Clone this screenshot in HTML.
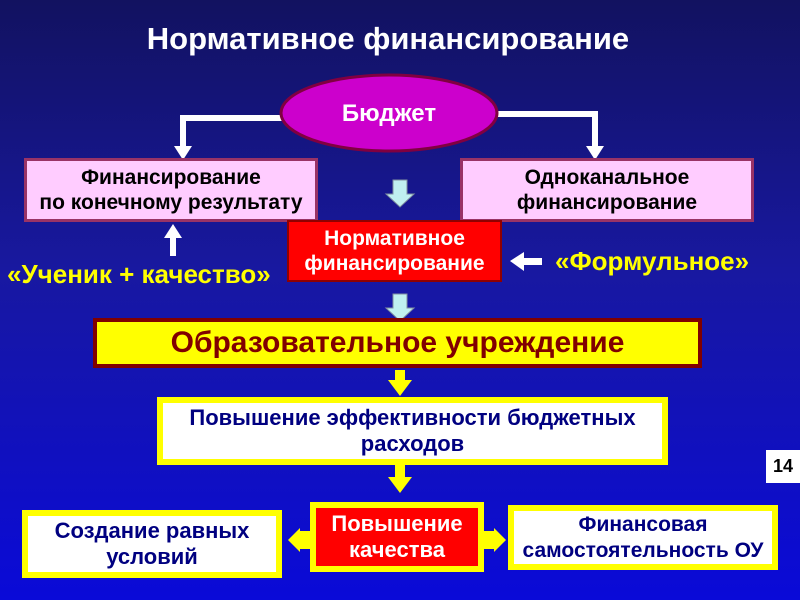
<!DOCTYPE html>
<html><head><meta charset="utf-8"><style>
body{margin:0;width:800px;height:600px;overflow:hidden;font-family:"Liberation Sans",sans-serif;}
#bg{position:absolute;left:0;top:0;width:800px;height:600px;background:linear-gradient(#121260 0%,#1818a0 45%,#0a0ad8 100%);}
.b{position:absolute;box-sizing:border-box;display:flex;align-items:center;justify-content:center;text-align:center;font-weight:bold;line-height:1.2;white-space:nowrap;}
.t{position:absolute;font-weight:bold;white-space:nowrap;}
</style></head><body><div id="bg"></div>
<div class="t" style="left:0;width:776px;text-align:center;top:21px;font-size:31px;color:#fff">Нормативное финансирование</div>
<svg width="800" height="600" style="position:absolute;left:0;top:0">
<polyline points="282,118 183,118 183,148" fill="none" stroke="#fff" stroke-width="6"/>
<polygon points="174,146 192,146 183,160" fill="#fff"/>
<polyline points="496,114 595,114 595,148" fill="none" stroke="#fff" stroke-width="6"/>
<polygon points="586,146 604,146 595,160" fill="#fff"/>
<ellipse cx="389" cy="113" rx="108" ry="38" fill="#cc00cc" stroke="#800040" stroke-width="3"/>
<polygon points="393,180 407,180 407,194 414,194 400,207 386,194 393,194" fill="#c0f0f0" stroke="#8090a0"/>
<polygon points="393,294 407,294 407,308 414,308 400,321 386,308 393,308" fill="#c0f0f0" stroke="#8090a0"/>
<rect x="170" y="236" width="6" height="20" fill="#fff"/>
<polygon points="164,238 182,238 173,224" fill="#fff"/>
<rect x="522" y="258" width="20" height="7" fill="#fff"/>
<polygon points="524,252 524,271 510,261" fill="#fff"/>
<rect x="395" y="370" width="10" height="12" fill="#ffff00"/>
<polygon points="388,380 412,380 400,396" fill="#ffff00"/>
<rect x="395" y="465" width="10" height="14" fill="#ffff00"/>
<polygon points="388,477 412,477 400,493" fill="#ffff00"/>
<polygon points="310,531 300,531 300,528 288,540 300,552 300,549 310,549" fill="#ffff00"/>
<polygon points="484,531 494,531 494,528 506,540 494,552 494,549 484,549" fill="#ffff00"/>
</svg>
<div class="t" style="left:282px;width:214px;text-align:center;top:100px;font-size:24px;color:#fff">Бюджет</div>
<div class="b" style="left:24px;top:158px;width:294px;height:64px;background:#ffccff;border:3px solid #993366;font-size:21px;color:#000">Финансирование<br>по конечному результату</div>
<div class="b" style="left:460px;top:158px;width:294px;height:64px;background:#ffccff;border:3px solid #993366;font-size:21px;color:#000">Одноканальное<br>финансирование</div>
<div class="b" style="left:287px;top:220px;width:215px;height:62px;background:#ff0000;border:2px solid #900000;font-size:21px;color:#fff">Нормативное<br>финансирование</div>
<div class="t" style="left:7px;top:259px;font-size:26px;color:#ffff00">«Ученик + качество»</div>
<div class="t" style="left:555px;top:246px;font-size:26px;color:#ffff00">«Формульное»</div>
<div class="b" style="left:93px;top:318px;width:609px;height:50px;background:#ffff00;border:4px solid #800000;font-size:30px;color:#800000">Образовательное учреждение</div>
<div class="b" style="left:157px;top:397px;width:511px;height:68px;background:#fff;border:6px solid #ffff00;font-size:22px;color:#000080">Повышение эффективности бюджетных<br>расходов</div>
<div class="b" style="left:22px;top:510px;width:260px;height:68px;background:#fff;border:6px solid #ffff00;font-size:22px;color:#000080">Создание равных<br>условий</div>
<div class="b" style="left:310px;top:502px;width:174px;height:70px;background:#ff0000;border:6px solid #ffff00;font-size:22px;color:#fff">Повышение<br>качества</div>
<div class="b" style="left:508px;top:505px;width:270px;height:65px;background:#fff;border:6px solid #ffff00;font-size:21px;color:#000080">Финансовая<br>самостоятельность ОУ</div>
<div class="b" style="left:766px;top:450px;width:34px;height:33px;background:#fff;font-size:18px;color:#000">14</div>
</body></html>
